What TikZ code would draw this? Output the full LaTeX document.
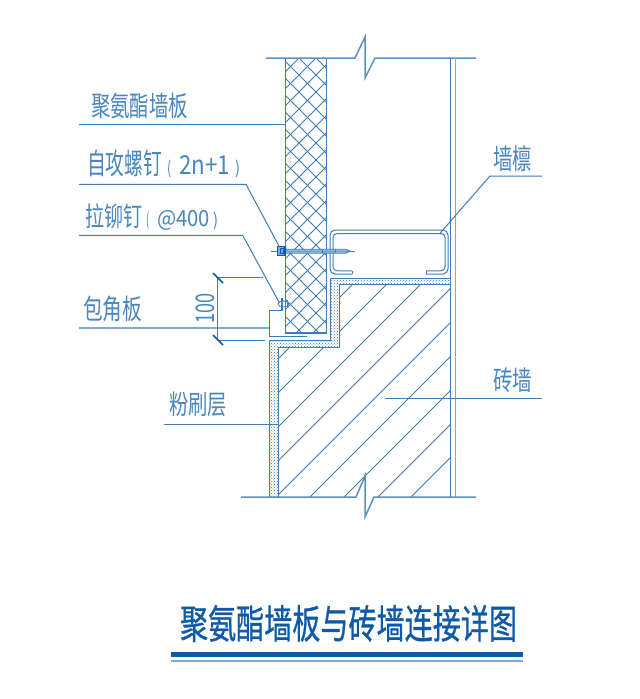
\documentclass[tikz,border=0pt]{standalone}
\usepackage{fontspec}
\usepackage{graphicx}
\usetikzlibrary{patterns}
\setmainfont{Noto Sans CJK SC}
\definecolor{ln}{HTML}{3F7DB9}
\definecolor{lnl}{HTML}{7FAAD3}
\definecolor{tx}{HTML}{4A86BF}
\definecolor{dk}{HTML}{0F5AA8}
\newcommand{\fitto}[3]{\resizebox*{#1pt}{#2pt}{#3}}
\tikzset{
  base/.style={draw=ln,line width=1pt,line join=miter},
  thin line/.style={draw=ln,line width=0.8pt},
  wall/.style={draw=lnl,line width=1.3pt},
  leader/.style={draw=ln,line width=1pt},
  heavy/.style={draw=ln!85,line width=1.5pt},
  hatch/.style={draw=ln,line width=1pt},
  tick/.style={draw=dk,line width=1.7pt},
  lab/.style={inner sep=0pt,outer sep=0pt,text=tx,anchor=center},
  plaster/.style={pattern=crosshatch dots,pattern color=ln},
}
\begin{document}
\begin{tikzpicture}[x=1pt,y=-1pt]
\useasboundingbox[fill=white] (0,0) rectangle (640,699);

% named points
\coordinate (pTL) at (285.3,58); \coordinate (pTR) at (326.5,58);
\coordinate (pBL) at (285.3,333); \coordinate (pBR) at (326.5,333);

% brick hatching
\begin{scope}
\clip (278.5,497) -- (278.5,347) -- (339.5,347) -- (339.5,285) -- (450.5,285) -- (450.5,497) -- cycle;
\foreach \c in {637,671,705,739,773,807,841,875,908}{
  \draw[hatch] (\c-500,500) -- (\c-200,200);
}
\end{scope}

% plaster
\path[plaster] (269.3,497) -- (269.3,340) -- (330.7,340) -- (330.7,278) -- (450.5,278) -- (450.5,284.5) -- (339.5,284.5) -- (339.5,347) -- (278.5,347) -- (278.5,497) -- cycle;
\draw[base] (269.3,497) -- (269.3,340) -- (330.7,340) -- (330.7,278) -- (450.5,278);
\draw[base] (278.5,497) -- (278.5,347) -- (339.5,347) -- (339.5,284.5) -- (450.5,284.5);

% panel crosshatch
\begin{scope}
\clip (pTL) rectangle (pBR);
\foreach \k in {-20,...,30}{
  \draw[hatch] ({299+17*\k},58) -- ++(400,400);
  \draw[hatch] ({299+17*\k},58) -- ++(-400,400);
}
\end{scope}
\draw[base,line width=1.2pt] (pTL) -- (pBL) -- (pBR) -- (pTR);

% break lines
\draw[heavy] (266,58) -- (355,58) -- (365,37) -- (365,78) -- (375,58) -- (476,58);
\draw[heavy] (241,497) -- (356,497) -- (365,476) -- (365,517) -- (374,497) -- (476,497);

% right wall
\draw[base,line width=1.2pt] (450.5,58) -- (450.5,497);
\draw[wall] (455.3,58) -- (455.3,497);

% purlin
\draw[base,rounded corners=5pt] (352,274) -- (330,274) -- (330,230) -- (448,230) -- (448,274) -- (426,274);
\draw[base,rounded corners=4pt] (426,270.8) -- (445,270.8) -- (445,233.5) -- (333,233.5) -- (333,270.8) -- (352,270.8);
\draw[base] (352,270.8) -- (352,274);
\draw[base] (426,270.8) -- (426,274);

% screw
\draw[thin line] (271,251) -- (355,251);
\fill[lnl,opacity=.8] (285,249.3) -- (346,249.3) -- (350,251) -- (346,253.2) -- (285,253.2) -- cycle;
\draw[thin line] (285,249.3) -- (346,249.3) -- (350,251) -- (346,253.2) -- (285,253.2);
\draw[thin line] (322,249.3) -- (322,253.2) (335,249.3) -- (335,253.2);
\fill[lnl] (277.5,246.5) rectangle (285,255.5);
\draw[draw=dk,line width=1.2pt] (277.5,246.5) rectangle (285,255.5);
\draw[draw=dk,line width=0.8pt] (280,248.5) rectangle (283,253.5);

% flashing
\draw[base] (282.7,298) -- (282.7,310) -- (269.3,310) -- (269.3,336) -- (307.3,336);

% rivet
\draw[thin line] (281.7,297.5) -- (281.7,310);
\draw[thin line] (283.5,304) ellipse (5.5pt and 3pt);
\draw[thin line] (287,300) -- (287,308);

% leaders
\coordinate (l1a) at (79,124.6);
\draw[leader] (l1a) -- (pTL |- l1a);
\coordinate (l2a) at (79,184.3); \coordinate (l2b) at (246,184.3); \coordinate (l2c) at (279.3,246.7);
\draw[leader] (l2a) -- (l2b) -- (l2c);
\coordinate (l3a) at (79,235.3); \coordinate (l3b) at (242.7,235.3); \coordinate (l3c) at (279.5,303);
\draw[leader] (l3a) -- (l3b) -- (l3c);
\coordinate (l4a) at (79,328); \coordinate (l4b) at (269.3,328);
\draw[draw=lnl,line width=1.6pt] (l4a) -- (l4b);
\coordinate (l5a) at (164,424); \coordinate (l5b) at (278,424);
\draw[leader] (l5a) -- (l5b);
\coordinate (l6a) at (542,176); \coordinate (l6b) at (490,176); \coordinate (l6c) at (440,233.3);
\draw[leader] (l6a) -- (l6b) -- (l6c);
\coordinate (l7a) at (542,398); \coordinate (l7b) at (385,398);
\draw[leader] (l7a) -- (l7b);

% dimension
\coordinate (d1) at (217.7,277); \coordinate (d2) at (217.7,340);
\coordinate (d1e) at (263,277); \coordinate (d2e) at (265,340);
\draw[leader] (d1) -- (d2);
\draw[leader] (d1) -- (d1e);
\draw[leader] (d2) -- (d2e);
\draw[tick] (213,273) -- (223,283);
\draw[tick] (213,335) -- (223,345);

% labels
\node[lab] (t1) at (139.5,106) {\fitto{97}{26}{聚氨酯墙板}};
\node[lab] (t2) at (163.5,163.5) {\fitto{75}{27}{自攻螺钉}\kern6pt\raisebox{0pt}{\fitto{4}{18}{(}}\kern7pt\raisebox{0pt}{\fitto{51}{19}{2n+1}}\kern5pt\raisebox{0pt}{\fitto{5}{18}{)}}};
\node[lab] (t3) at (151.5,217.5) {\fitto{57}{25}{拉铆钉}\kern5pt\raisebox{0pt}{\fitto{3}{18}{(}}\kern7pt\raisebox{0pt}{\fitto{53}{20}{@400}}\kern3pt\raisebox{0pt}{\fitto{5}{18}{)}}};
\node[lab] (t4) at (112.5,309) {\fitto{59}{26}{包角板}};
\node[lab] (t5) at (198,404.5) {\fitto{58}{25}{粉刷层}};
\node[lab] (t6) at (512.5,159) {\fitto{39}{26}{墙檩}};
\node[lab] (t7) at (512.5,380.5) {\fitto{39}{25}{砖墙}};
\node[lab,rotate=90] (t8) at (205,308) {\fitto{30}{19}{100}};

% title
\node[lab,text=dk] (title) at (348.5,623.5) {\fitto{337}{37}{\addfontfeature{FakeBold=0.8}聚氨酯墙板与砖墙连接详图}};
\fill[dk] (171,651.7) rectangle (523,657);
\fill[lnl] (171,660.3) rectangle (523,661.6);
\end{tikzpicture}
\end{document}
